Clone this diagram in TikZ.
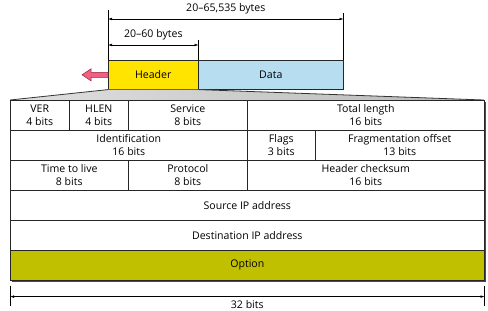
\documentclass[tikz,border=0pt]{standalone}
\usepackage{fontspec}
\setmainfont{Open Sans}
\usetikzlibrary{positioning,arrows.meta}
\definecolor{hdryellow}{RGB}{255,228,0}
\definecolor{datablue}{RGB}{182,222,240}
\definecolor{optolive}{RGB}{192,192,0}
\definecolor{arrowpink}{RGB}{240,96,128}
\definecolor{arrowedge}{RGB}{150,30,60}

\begin{document}
\begin{tikzpicture}[x=1bp, y=-1bp, font=\fontsize{10.6}{13}\selectfont,
  cell/.style={draw=black!85, line width=0.6bp, inner sep=0pt, align=center,
    anchor=north west, minimum height=30bp},
  part/.style={draw=black!85, line width=0.6bp, inner sep=0pt,
    anchor=north west, minimum height=29bp},
  dim/.style={{Latex[length=4bp,width=2.6bp]}-{Latex[length=4bp,width=2.6bp]}, line width=0.5bp},
  tick/.style={line width=0.6bp}]
  \useasboundingbox (0,0) rectangle (488,310);

  % Datagram
  \node[part, fill=hdryellow, minimum width=90bp] (hdr) at (108,60) {Header};
  \node[part, fill=datablue, minimum width=145bp] (dat) at (198,60) {Data};
  \draw[arrowedge, fill=arrowpink, line width=0.5bp]
    (hdr.west) ++(0,-2.5) -- ++(-17,0) -- ++(0,-3.5) -- ++(-9,6)
    -- ++(9,6) -- ++(0,-3.5) -- ++(17,0) -- cycle;

  % Lengths above
  \draw[tick] (hdr.north west) -- ++(0,-50) coordinate (ta);
  \draw[tick] (dat.north east) -- ++(0,-47) coordinate (tb);
  \draw[tick] (hdr.north east) -- ++(0,-20) coordinate (tc);
  \coordinate (la) at ([yshift=41bp]hdr.north west);
  \coordinate (lb) at ([yshift=41bp]dat.north east);
  \draw[dim] (la) -- node[above=1bp] {20--65,535 bytes} (lb);
  \coordinate (ma) at ([yshift=15bp]hdr.north west);
  \coordinate (mb) at ([yshift=15bp]hdr.north east);
  \draw[dim] (ma) -- node[above=1bp] {20--60 bytes} (mb);

  % Zoom fan
  \shade[left color=gray!25, right color=gray!55]
    (hdr.south west) -- (hdr.south east) -- (484,100) -- (10,100) -- cycle;
  \draw[black!80, line width=0.8bp] (10,100) -- (hdr.south west);
  \draw[black!80, line width=0.8bp] (hdr.south east) -- (484,100);

  % Header fields
  \fill[black!70] (12,102) rectangle (486,282);
  \node[cell, fill=white, minimum width=59bp] (ver) at (10,100) {VER\\4 bits};
  \node[cell, fill=white, minimum width=59bp] (hlen) at (69,100) {HLEN\\4 bits};
  \node[cell, fill=white, minimum width=119bp] (srv) at (128,100) {Service\\8 bits};
  \node[cell, fill=white, minimum width=237bp] (tlen) at (247,100) {Total length\\16 bits};
  \node[cell, fill=white, minimum width=237bp] (ident) at (10,130) {Identification\\16 bits};
  \node[cell, fill=white, minimum width=68bp] (flags) at (247,130) {Flags\\3 bits};
  \node[cell, fill=white, minimum width=169bp] (frag) at (315,130) {Fragmentation offset\\13 bits};
  \node[cell, fill=white, minimum width=118bp] (ttl) at (10,160) {Time to live\\8 bits};
  \node[cell, fill=white, minimum width=119bp] (proto) at (128,160) {Protocol\\8 bits};
  \node[cell, fill=white, minimum width=237bp] (csum) at (247,160) {Header checksum\\16 bits};
  \node[cell, fill=white, minimum width=474bp] (src) at (10,190) {Source IP address};
  \node[cell, fill=white, minimum width=474bp] (dst) at (10,220) {Destination IP address};
  \node[cell, fill=optolive, minimum width=474bp] (opt) at (10,250) {Option};

  % Width below
  \draw[tick] ([yshift=-5bp]opt.south west) -- ++(0,20);
  \draw[tick] ([yshift=-5bp]opt.south east) -- ++(0,20);
  \coordinate (wa) at ([yshift=-16bp]opt.south west);
  \coordinate (wb) at ([yshift=-16bp]opt.south east);
  \draw[dim] (wa) -- node[below=0bp] {32 bits} (wb);
\end{tikzpicture}
\end{document}
